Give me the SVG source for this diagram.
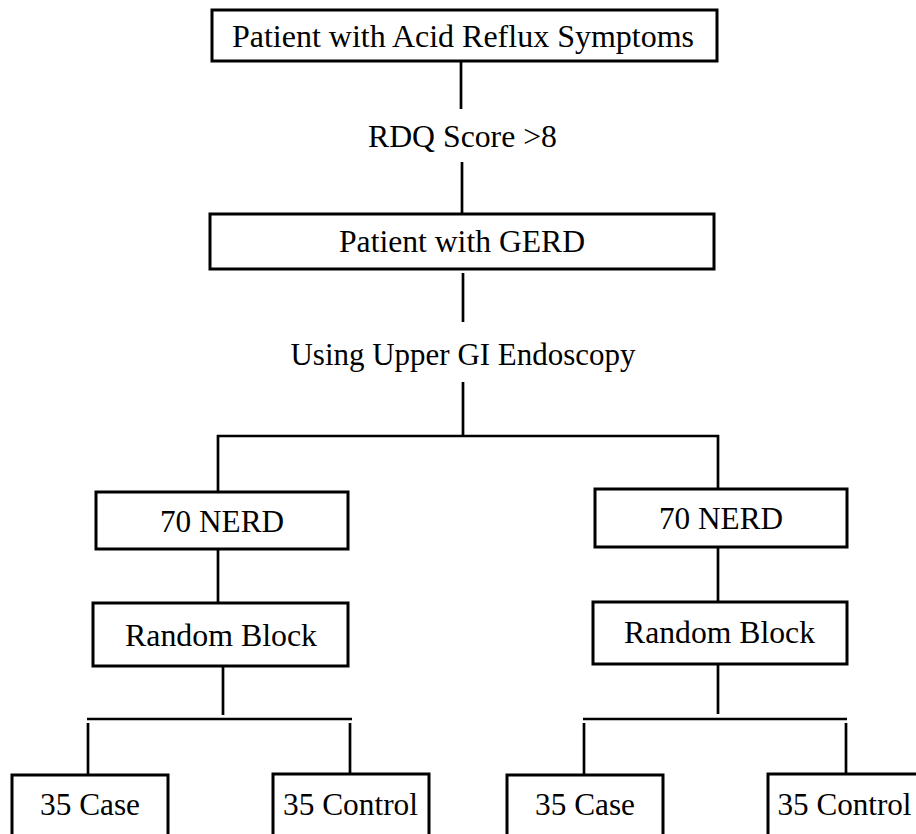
<svg xmlns="http://www.w3.org/2000/svg" width="916" height="834" viewBox="0 0 916 834">
<style>
.box{fill:#fff;stroke:#000;stroke-width:3}
.ln{stroke:#000;stroke-width:2.7;fill:none}
.t{font-size:32.5px;fill:#000;text-anchor:middle}
</style>
<rect width="916" height="834" fill="#fff"/>
<g id="connectors">
<line class="ln" x1="461" y1="61" x2="461" y2="109"/>
<line class="ln" x1="462" y1="162" x2="462" y2="213"/>
<line class="ln" x1="463" y1="273" x2="463" y2="322"/>
<line class="ln" x1="463" y1="382" x2="463" y2="436"/>
<polyline class="ln" points="218,492 218,436 718,436 718,489"/>
<line class="ln" x1="218" y1="549" x2="218" y2="603"/>
<line class="ln" x1="718" y1="547" x2="718" y2="602"/>
<line class="ln" x1="223" y1="666" x2="223" y2="715"/>
<line class="ln" x1="87" y1="719" x2="352" y2="719"/>
<line class="ln" x1="88" y1="723" x2="88" y2="774"/>
<line class="ln" x1="350" y1="723" x2="350" y2="774"/>
<line class="ln" x1="718" y1="663" x2="718" y2="714"/>
<line class="ln" x1="583" y1="719" x2="847" y2="719"/>
<line class="ln" x1="584" y1="723" x2="584" y2="774"/>
<line class="ln" x1="846" y1="723" x2="846" y2="774"/>
</g>
<g font-family="Liberation Serif, Times New Roman, DejaVu Serif, serif">
<g id="n-symptoms"><rect class="box" x="212" y="10" width="505" height="51"/><text class="t" x="463" y="47" textLength="462" lengthAdjust="spacingAndGlyphs">Patient with Acid Reflux Symptoms</text></g>
<g id="l-rdq"><text class="t" x="462.5" y="147" textLength="189" lengthAdjust="spacingAndGlyphs">RDQ Score &gt;8</text></g>
<g id="n-gerd"><rect class="box" x="210" y="214" width="504" height="55"/><text class="t" x="462" y="252" textLength="246" lengthAdjust="spacingAndGlyphs">Patient with GERD</text></g>
<g id="l-endo"><text class="t" x="463" y="365" textLength="345" lengthAdjust="spacingAndGlyphs">Using Upper GI Endoscopy</text></g>
<g id="n-nerd-l"><rect class="box" x="96" y="492" width="252" height="57"/><text class="t" x="222" y="532" textLength="124" lengthAdjust="spacingAndGlyphs">70 NERD</text></g>
<g id="n-nerd-r"><rect class="box" x="595" y="489" width="252" height="58"/><text class="t" x="721" y="529" textLength="124" lengthAdjust="spacingAndGlyphs">70 NERD</text></g>
<g id="n-rand-l"><rect class="box" x="93" y="603" width="255" height="63"/><text class="t" x="221" y="646" textLength="192" lengthAdjust="spacingAndGlyphs">Random Block</text></g>
<g id="n-rand-r"><rect class="box" x="593" y="602" width="254" height="62"/><text class="t" x="719.5" y="643" textLength="191" lengthAdjust="spacingAndGlyphs">Random Block</text></g>
<g id="n-case-l"><rect class="box" x="12" y="775" width="156" height="100"/><text class="t" x="90" y="815" textLength="100" lengthAdjust="spacingAndGlyphs">35 Case</text></g>
<g id="n-ctrl-l"><rect class="box" x="273" y="774" width="156" height="100"/><text class="t" x="350.5" y="815" textLength="135" lengthAdjust="spacingAndGlyphs">35 Control</text></g>
<g id="n-case-r"><rect class="box" x="507" y="775" width="156" height="100"/><text class="t" x="585" y="815" textLength="100" lengthAdjust="spacingAndGlyphs">35 Case</text></g>
<g id="n-ctrl-r"><rect class="box" x="768" y="774" width="170" height="100"/><text class="t" x="844.5" y="815" textLength="134" lengthAdjust="spacingAndGlyphs">35 Control</text></g>
</g>
</svg>
